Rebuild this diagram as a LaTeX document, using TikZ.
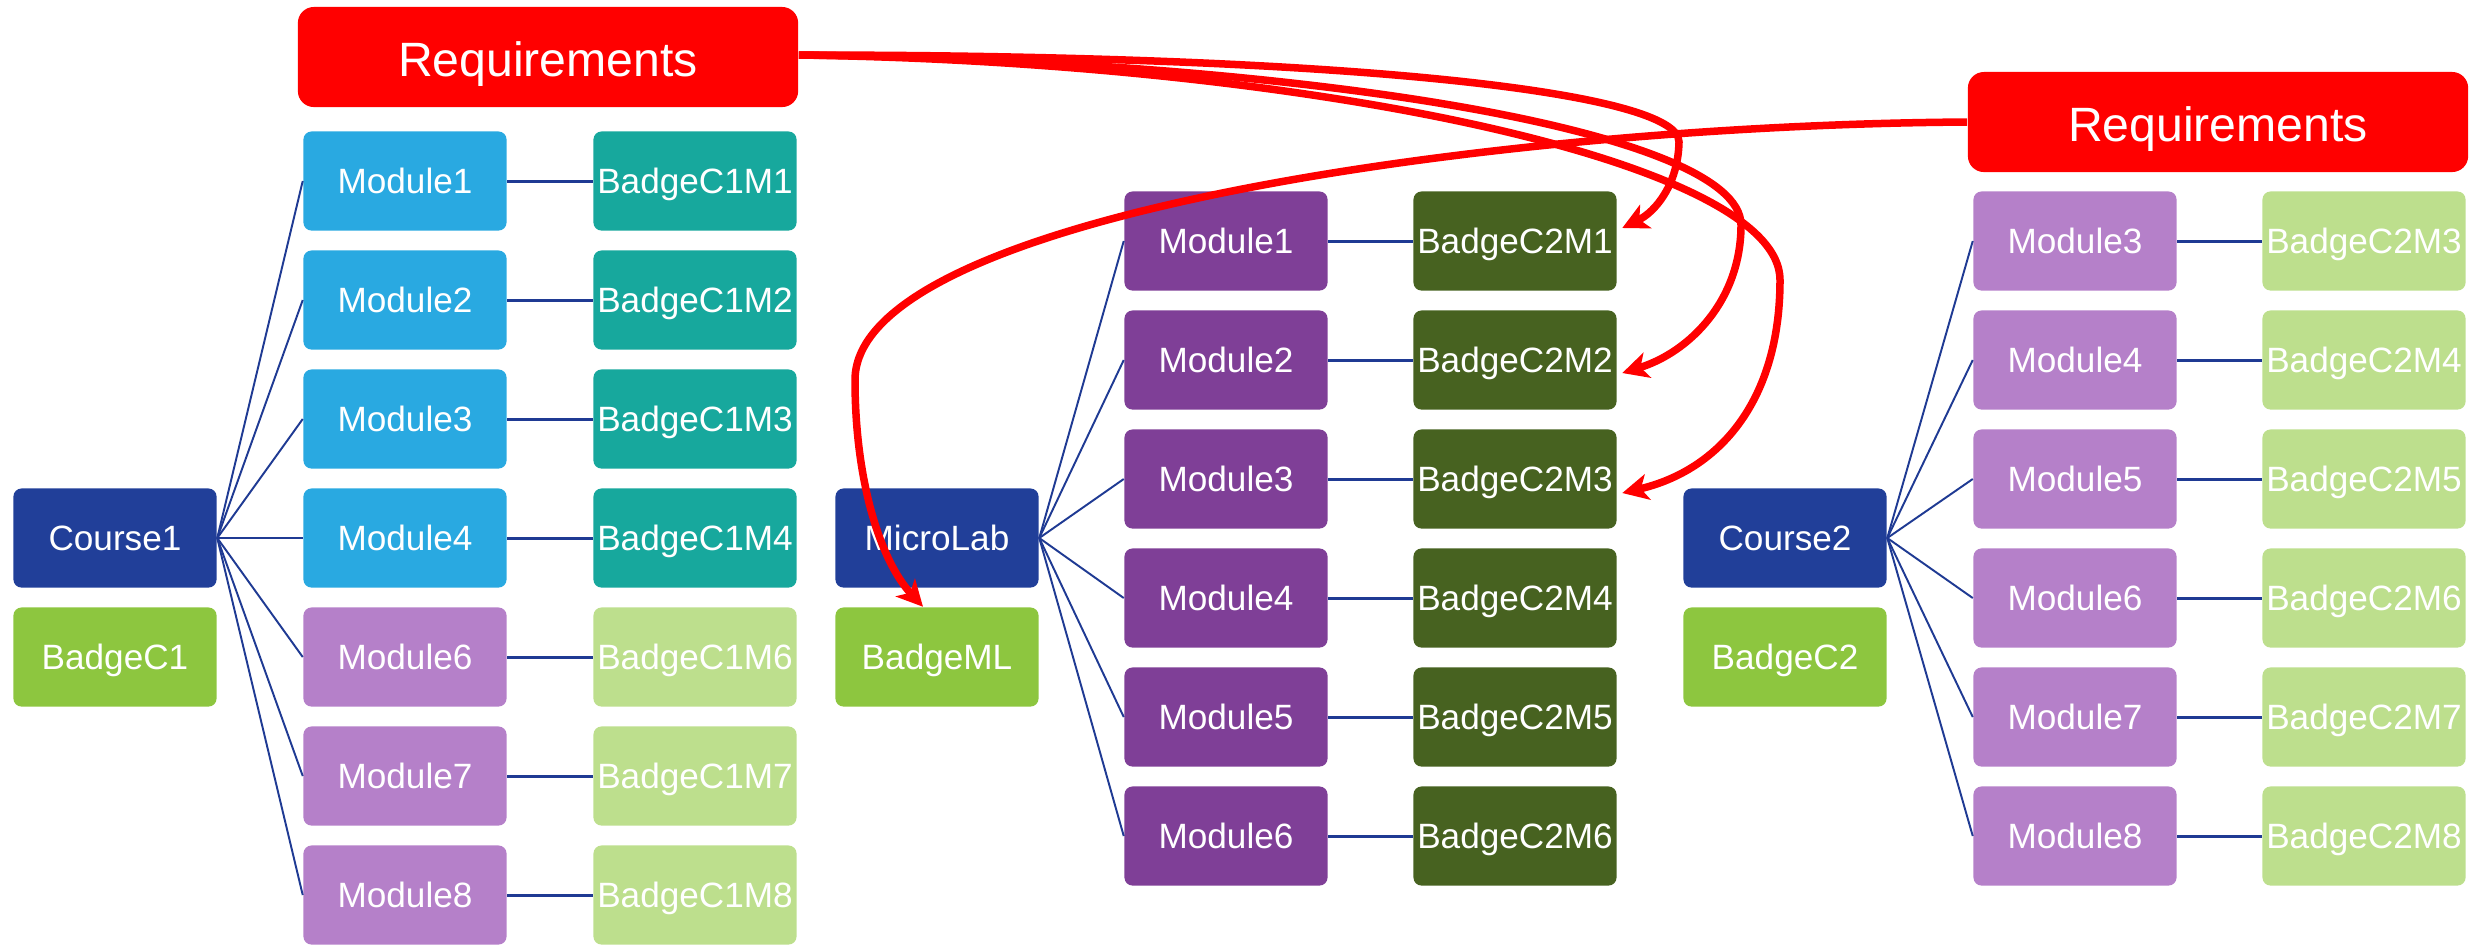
\documentclass[tikz,border=0pt]{standalone}
\usepackage{fontspec}
\setmainfont{Liberation Sans}
\usetikzlibrary{arrows.meta}

\definecolor{coursenavy}{HTML}{213F99}
\definecolor{modblue}{HTML}{29A9E1}
\definecolor{badgeteal}{HTML}{17A89D}
\definecolor{modlilac}{HTML}{B580C9}
\definecolor{badgelime}{HTML}{BDDF8D}
\definecolor{modplum}{HTML}{7F3F97}
\definecolor{badgeolive}{HTML}{476220}
\definecolor{badgegreen}{HTML}{8DC63F}
\definecolor{linknavy}{HTML}{1F3A93}
\definecolor{reqred}{HTML}{FF0000}

\begin{document}
\begin{tikzpicture}[x=0.01cm, y=-0.01cm,
  box/.style={rounded corners=0.08cm, minimum width=2.03cm, minimum height=0.99cm,
    inner sep=0pt, text=white, text height=0.255cm, text depth=0cm,
    font=\fontsize{10}{12}\selectfont},
  reqbox/.style={fill=reqred, rounded corners=0.16cm, minimum width=5cm, minimum height=1cm,
    inner sep=0pt, text=white, text height=0.39cm, text depth=0cm,
    font=\fontsize{13.7}{16}\selectfont},
  branch/.style={draw=linknavy, line width=0.55pt},
  pairlink/.style={draw=linknavy, line width=0.85pt},
  reqlink/.style={draw=reqred, line width=0.075cm,
    -{Stealth[length=0.26cm, width=0.26cm, inset=0.07cm]}}
]
\useasboundingbox (0,0) rectangle (2479,944);

% ---- Course1 and its modules ----
\node[box, fill=coursenavy] (c1) at (115,538) {Course1};
\node[box, fill=badgegreen] (bc1) at (115,657) {BadgeC1};
\foreach \n/\y/\mc/\bc in {1/181/modblue/badgeteal, 2/300/modblue/badgeteal,
    3/419/modblue/badgeteal, 4/538/modblue/badgeteal, 6/657/modlilac/badgelime,
    7/776/modlilac/badgelime, 8/895/modlilac/badgelime} {
  \node[box, fill=\mc] (a\n) at (405,\y) {Module\n};
  \node[box, fill=\bc] (ab\n) at (695,\y) {BadgeC1M\n};
  \draw[branch] (c1.east) -- (a\n.west);
  \draw[pairlink] (a\n) -- (ab\n);
}

% ---- MicroLab and its modules ----
\node[box, fill=coursenavy] (ml) at (937,538) {MicroLab};
\node[box, fill=badgegreen] (bml) at (937,657) {BadgeML};
\foreach \n/\y in {1/241, 2/360, 3/479, 4/598, 5/717, 6/836} {
  \node[box, fill=modplum] (b\n) at (1226,\y) {Module\n};
  \node[box, fill=badgeolive] (bb\n) at (1515,\y) {BadgeC2M\n};
  \draw[branch] (ml.east) -- (b\n.west);
  \draw[pairlink] (b\n) -- (bb\n);
}

% ---- Course2 and its modules ----
\node[box, fill=coursenavy] (c2) at (1785,538) {Course2};
\node[box, fill=badgegreen] (bc2) at (1785,657) {BadgeC2};
\foreach \n/\y in {3/241, 4/360, 5/479, 6/598, 7/717, 8/836} {
  \node[box, fill=modlilac] (d\n) at (2075,\y) {Module\n};
  \node[box, fill=badgelime] (db\n) at (2364,\y) {BadgeC2M\n};
  \draw[branch] (c2.east) -- (d\n.west);
  \draw[pairlink] (d\n) -- (db\n);
}

% ---- Requirement boxes ----
\node[reqbox] (r1) at (548,57) {Requirements};
\node[reqbox] (r2) at (2218,122) {Requirements};

% ---- Requirement links ----
\draw[reqlink] ([yshift=0.02cm]r1.east)
  .. controls (1350,55) and (1680,92) .. (1679,142)
  .. controls (1678,185) and (1655,212) .. ([xshift=0.05cm,yshift=0.13cm]bb1.east);
\draw[reqlink] ([yshift=0.02cm]r1.east)
  .. controls (1300,60) and (1741,130) .. (1741,225)
  .. controls (1741,300) and (1690,352) .. ([xshift=0.05cm,yshift=-0.13cm]bb2.east);
\draw[reqlink] ([yshift=0.02cm]r1.east)
  .. controls (1300,62) and (1780,160) .. (1780,280)
  .. controls (1780,400) and (1720,470) .. ([xshift=0.05cm,yshift=-0.14cm]bb3.east);
\draw[reqlink] (r2.west)
  .. controls (1500,125) and (855,215) .. (855,380)
  .. controls (855,480) and (880,560) .. ([xshift=-0.14cm]bml.north);
\end{tikzpicture}
\end{document}
